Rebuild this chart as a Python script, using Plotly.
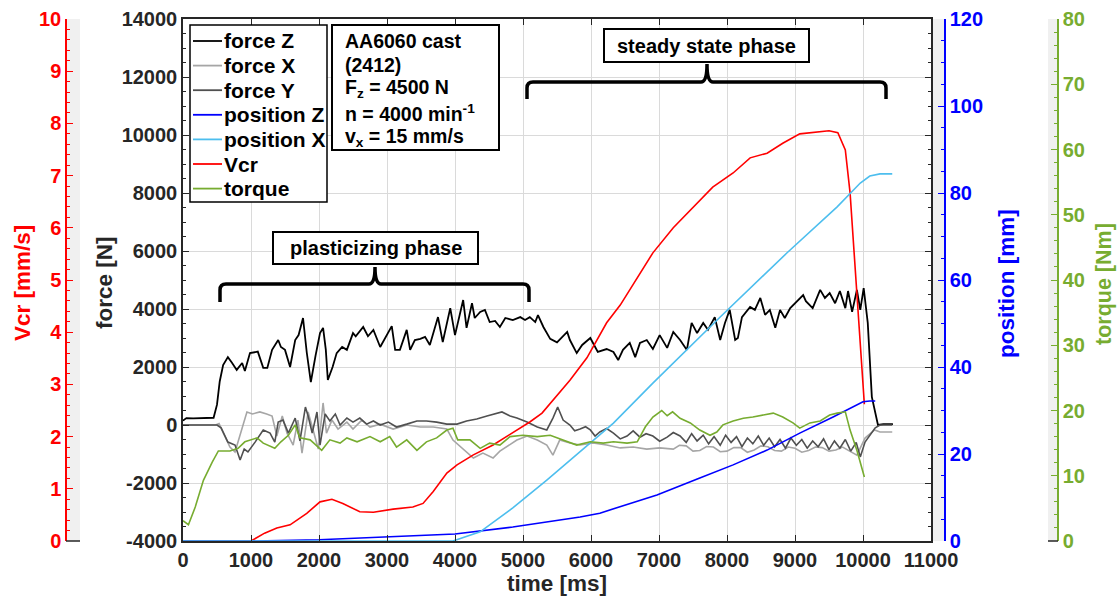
import plotly.graph_objects as go

W, H = 1119, 601

# ---------------- data ----------------
fz_t = [0, 50, 150, 250, 350, 450, 500, 540, 590, 660, 720, 790, 870, 910, 985, 1100, 1180, 1240, 1310, 1400,
        1440, 1500, 1575, 1650, 1700, 1765, 1820, 1880, 1950, 2015, 2060, 2100, 2130, 2200, 2260, 2340, 2410,
        2500, 2540, 2650, 2720, 2800, 2900, 3000, 3070, 3120, 3190, 3290, 3340, 3410, 3490, 3560, 3630, 3750,
        3820, 3930, 4000, 4120, 4170, 4250, 4290, 4370, 4440, 4510, 4590, 4660, 4740, 4850, 4960, 5030, 5100,
        5180, 5220, 5300, 5400, 5500, 5650, 5690, 5790, 5870, 5990, 6100, 6230, 6330, 6400, 6470, 6570, 6650,
        6720, 6820, 6910, 7010, 7120, 7210, 7310, 7410, 7480, 7560, 7650, 7720, 7820, 7900, 7970, 8040, 8120,
        8160, 8220, 8340, 8410, 8490, 8560, 8630, 8710, 8780, 8850, 8930, 9030, 9120, 9160, 9260, 9370, 9440,
        9510, 9590, 9660, 9740, 9780, 9840, 9910, 9960, 10010, 10070, 10130, 10220, 10300, 10440]
fz_v = [150, 240, 230, 230, 240, 250, 700, 1500, 2070, 2340, 2150, 1900, 2140, 1860, 2480, 2530, 1970, 1970, 2590, 2930,
        2690, 2590, 2000, 2930, 3100, 3690, 2500, 1480, 2400, 3170, 3350, 2600, 1550, 2000, 2480, 2690, 2590,
        3170, 3060, 3380, 3060, 3280, 2690, 3100, 3410, 2590, 2590, 3280, 2590, 2930, 2970, 3040, 2760, 3720,
        2860, 4030, 3100, 4310, 3350, 4200, 3690, 3900, 3970, 3550, 3590, 3380, 3690, 3620, 3720, 3620, 3720,
        3550, 3790, 3380, 2970, 2850, 3210, 2930, 2480, 2760, 3000, 2520, 2620, 2520, 2240, 2590, 2830, 2340,
        2830, 2930, 2620, 3100, 2660, 3210, 2930, 2590, 3520, 3170, 3520, 3280, 3720, 2930, 3520, 3970, 2930,
        3000, 3720, 4070, 3970, 4380, 3800, 3970, 3350, 3970, 3690, 4030, 4270, 4480, 4270, 4030, 4660, 4380,
        4550, 4200, 4620, 4030, 4620, 3900, 4660, 3970, 4720, 3520, 970, 0, 30, 30]

fx_t = [0, 480, 530, 600, 690, 765, 870, 940, 1020, 1130, 1230, 1310, 1380, 1460, 1530, 1620, 1690, 1750, 1840,
        1910, 1990, 2060, 2110, 2190, 2280, 2410, 2500, 2630, 2750, 2900, 3090, 3290, 3490, 3680, 3880, 3970,
        4120, 4270, 4410, 4560, 4660, 4810, 4910, 5060, 5210, 5350, 5440, 5540, 5690, 5840, 6030, 6230, 6430,
        6620, 6820, 7010, 7210, 7300, 7400, 7500, 7600, 7700, 7800, 7900, 8000, 8100, 8200, 8300, 8400, 8500,
        8600, 8700, 8800, 8900, 9000, 9100, 9200, 9300, 9400, 9500, 9600, 9700, 9800, 9910, 10030, 10170,
        10250, 10430]
fx_v = [0, 0, 50, -300, -760, -930, -140, 450, 380, 450, 380, 310, -380, 310, -280, -690, 170, -970, 450,
        -140, -830, 760, -280, 170, -140, 100, -140, 170, -70, 30, -140, 0, -70, -70, -140, -520,
        -830, -1140, -970, -1140, -900, -660, -520, -380, -520, -690, -1040, -520, -620, -690, -620, -690, -790,
        -760, -830, -790, -830, -700, -720, -900, -880, -740, -760, -920, -900, -780, -780, -940, -860, -720,
        -750, -880, -900, -760, -800, -940, -880, -760, -780, -900, -860, -760, -900, -1040, -450, -170,
        -240, -240]

fy_t = [0, 500, 560, 660, 765, 840, 900, 955, 1060, 1180, 1280, 1350, 1400, 1470, 1550, 1650, 1720, 1800, 1840,
        1900, 1970, 2015, 2090, 2160, 2240, 2310, 2410, 2500, 2600, 2700, 2800, 2900, 3020, 3140, 3290, 3440,
        3580, 3730, 3880, 4030, 4170, 4320, 4470, 4590, 4690, 4810, 4910, 5060, 5210, 5350, 5440, 5510, 5590,
        5690, 5760, 5840, 5920, 5990, 6060, 6130, 6230, 6330, 6430, 6530, 6620, 6720, 6810, 6910, 7010, 7120,
        7210, 7310, 7400, 7480, 7560, 7650, 7730, 7810, 7900, 7980, 8060, 8140, 8220, 8300, 8380, 8460, 8540,
        8620, 8700, 8780, 8860, 8940, 9020, 9100, 9180, 9260, 9340, 9420, 9500, 9580, 9660, 9740, 9820, 9900,
        9960, 10030, 10180, 10250, 10430]
fy_v = [0, 0, -100, -590, -690, -1210, -830, -930, -590, -170, -280, -590, 100, 170, -280, 240, -550, 620, 310,
        -280, 450, -690, 380, 140, 380, 0, 240, 100, 240, 30, 140, 0, 100, -70, 30, 140,
        140, 100, 30, 30, 140, 210, 310, 380, 450, 310, 240, 100, -70, -170, 240, 620, 170,
        0, -200, -140, -60, -170, -380, -240, -120, -280, -480, -380, -200, -420, -300, -380, -560, -420,
        -260, -380, -600, -300, -550, -350, -650, -400, -700, -350, -600, -400, -750, -450, -650, -380, -700,
        -450, -750, -500, -800, -450, -700, -500, -800, -550, -750, -480, -850, -550, -800, -500, -900, -600,
        -1100, -590, -100, 0, 0]

pz_t = [0, 1000, 2000, 3000, 4000, 4850, 5840, 6130, 6970, 7600, 8090, 8590, 9070, 9560, 10000, 10100, 10180]
pz_v = [0, 0, 0.3, 0.9, 1.6, 3.2, 5.5, 6.4, 10.6, 14.5, 17.5, 20.9, 24.8, 28.5, 32.0, 32.2, 32.2]

px_t = [0, 3970, 4370, 4850, 5350, 5840, 6330, 6910, 7900, 8880, 9620, 9960, 10100, 10250, 10430]
px_v = [0, 0, 2.1, 7.6, 14.0, 20.5, 27.1, 36.3, 51.5, 66.2, 76.8, 82.3, 83.9, 84.4, 84.4]

vcr_t = [0, 1000, 1200, 1380, 1575, 1820, 2015, 2190, 2350, 2600, 2800, 3090, 3380, 3530, 3680, 3880, 4030,
         4270, 4560, 4850, 5100, 5280, 5440, 5690, 5940, 6230, 6430, 6680, 6910, 7210, 7500, 7790, 8090,
         8340, 8590, 8820, 9070, 9320, 9500, 9630, 9740, 9810, 9880, 9960, 10020]
vcr_v = [0, 0, 0.15, 0.25, 0.31, 0.53, 0.75, 0.80, 0.72, 0.56, 0.55, 0.61, 0.65, 0.72, 0.95, 1.30, 1.46,
         1.65, 1.84, 2.07, 2.28, 2.45, 2.70, 3.08, 3.51, 4.18, 4.52, 5.04, 5.52, 6.00, 6.40, 6.78, 7.05,
         7.34, 7.43, 7.62, 7.80, 7.84, 7.86, 7.82, 7.49, 6.67, 5.38, 3.79, 2.62]

tq_t = [0, 80, 180, 300, 430, 520, 690, 810, 910, 1090, 1180, 1350, 1440, 1550, 1650, 1720, 1870, 2040, 2160,
        2310, 2410, 2560, 2750, 2900, 3040, 3140, 3290, 3440, 3580, 3730, 3880, 3970, 4040, 4220, 4370, 4510,
        4660, 4810, 5000, 5210, 5400, 5590, 5790, 5990, 6180, 6330, 6530, 6680, 6800, 6910, 7040, 7120, 7200,
        7310, 7460, 7600, 7750, 7850, 7940, 8090, 8240, 8380, 8530, 8680, 8820, 8970, 9070, 9220, 9370, 9510,
        9620, 9740, 9810, 9910, 10020]
tq_v = [3.1, 2.5, 5.2, 9.3, 12.1, 13.8, 13.8, 14.2, 15.2, 15.8, 15.0, 14.2, 15.2, 16.2, 17.8, 15.8, 15.5, 13.9, 15.5,
        15.0, 15.8, 15.2, 16.0, 15.2, 16.0, 14.4, 15.5, 13.9, 15.2, 15.8, 17.0, 17.3, 15.5, 15.5, 14.2, 15.0,
        14.7, 16.0, 16.2, 16.0, 16.2, 15.5, 14.7, 15.2, 15.0, 15.2, 15.0, 15.2, 17.5, 19.0, 20.0, 19.2, 19.8,
        18.8, 18.1, 17.0, 16.2, 16.7, 17.8, 18.4, 18.8, 19.0, 19.3, 19.6, 19.0, 18.1, 17.3, 18.1, 18.4, 19.3,
        19.6, 19.8, 17.0, 13.9, 9.8]

x_ticks = list(range(0, 11001, 1000))
force_ticks = list(range(-4000, 14001, 2000))

series_names = ["force Z", "force X", "force Y", "position Z", "position X", "Vcr", "torque"]
series_colors = ["black", "#a6a6a6", "#505050", "#0000ff", "#4dbeee", "#ff0000", "#77ac30"]

# ---------------- styling helpers ----------------
FONT = "Liberation Sans, Arial, sans-serif"
DARK = "#262626"
def PX(px): return px / W
def PY(py): return 1 - py / H

fig = go.Figure()
data = [(fz_t, fz_v, "y"), (fx_t, fx_v, "y"), (fy_t, fy_v, "y"), (pz_t, pz_v, "y3"),
        (px_t, px_v, "y3"), (vcr_t, vcr_v, "y2"), (tq_t, tq_v, "y4")]
for (t, v, ax), name, col in zip(data, series_names, series_colors):
    fig.add_trace(go.Scatter(x=t, y=v, name=name, mode="lines", yaxis=ax, showlegend=False,
                             line=dict(color=col, width=1.8 if name == "force Z" else 1.6)))

tickfont = dict(family=FONT, size=20, color=DARK, weight="bold")
ydom = [PY(541), PY(19)]

def free_axis(color, rng, dtick, minor, pos, side):
    return dict(range=rng, dtick=dtick, overlaying="y", anchor="free", position=pos, side=side,
                ticks="inside", ticklen=6, tickwidth=1, tickcolor=color, showline=True, linecolor=color,
                linewidth=1.5, showgrid=False, zeroline=False, automargin=False,
                tickfont=dict(family=FONT, size=20, color=color, weight="bold"),
                minor=dict(dtick=minor, ticks="inside", ticklen=3.5, tickcolor=color, showgrid=False))

fig.update_layout(
    template="none",
    width=W, height=H, margin=dict(l=0, r=0, t=0, b=0, pad=0),
    paper_bgcolor="white", plot_bgcolor="white",
    font=dict(family=FONT, size=20, color=DARK, weight="bold"),
    showlegend=False,
    xaxis=dict(domain=[PX(183), PX(931)], range=[0, 11000], tickvals=x_ticks,
               ticktext=[str(v) for v in x_ticks], ticks="inside", ticklen=6,
               tickcolor=DARK, showline=True, linecolor=DARK, linewidth=1.5, mirror="ticks",
               showgrid=True, gridcolor="#dadada", gridwidth=1, zeroline=False, tickfont=tickfont,
               automargin=False),
    yaxis=dict(domain=ydom, range=[-4000, 14000], tickvals=force_ticks, ticktext=[str(v) for v in force_ticks],
               ticks="inside", ticklen=6, tickcolor=DARK,
               showline=True, linecolor=DARK, linewidth=1.5, mirror="ticks", showgrid=True,
               gridcolor="#dadada", gridwidth=1, zeroline=False, tickfont=tickfont, automargin=False,
               minor=dict(dtick=500, ticks="inside", ticklen=3.5, tickcolor=DARK, showgrid=False)),
    yaxis2=free_axis("#ff0000", [0, 10], 1, 0.2, PX(66), "left"),
    yaxis3=free_axis("#0000ff", [0, 120], 20, 5, PX(945), "right"),
    yaxis4=free_axis("#77ac30", [0, 80], 10, 2, PX(1058), "right"),
)

shapes = []
# grey background strips of the extra axes
for x0, x1 in [(66, 80), (931, 945), (1048, 1058)]:
    shapes.append(dict(type="rect", xref="paper", yref="paper", x0=PX(x0), x1=PX(x1), y0=PY(541), y1=PY(19),
                       fillcolor="#f0f0f0", line=dict(width=0), layer="below"))
for x0, x1 in [(66, 80), (1048, 1058)]:
    shapes.append(dict(type="line", xref="paper", yref="paper", x0=PX(x0), x1=PX(x1), y0=PY(541), y1=PY(541),
                       line=dict(color=DARK, width=1.5)))

def brace(xl, xr, yh, yend, xt, ytop):
    r = 6
    pts = [f"M {PX(xl)},{PY(yend)}", f"L {PX(xl)},{PY(yh + r)}",
           f"Q {PX(xl)},{PY(yh)} {PX(xl + r)},{PY(yh)}", f"L {PX(xt - r)},{PY(yh)}",
           f"Q {PX(xt)},{PY(yh)} {PX(xt)},{PY(ytop)}", f"Q {PX(xt)},{PY(yh)} {PX(xt + r)},{PY(yh)}",
           f"L {PX(xr - r)},{PY(yh)}", f"Q {PX(xr)},{PY(yh)} {PX(xr)},{PY(yh + r)}",
           f"L {PX(xr)},{PY(yend)}"]
    return dict(type="path", xref="paper", yref="paper", path=" ".join(pts),
                line=dict(color="black", width=3.5))

shapes.append(brace(220, 529, 284, 302, 375, 267))
shapes.append(brace(527, 886, 82, 99, 707, 64))
# boxes: legend, info, phase labels
for x0, x1, y0, y1 in [(190, 327, 25, 202), (332, 499, 25, 150), (273, 478, 232, 264), (604, 809, 29, 62)]:
    shapes.append(dict(type="rect", xref="paper", yref="paper", x0=PX(x0), x1=PX(x1), y0=PY(y1), y1=PY(y0),
                       fillcolor="white", line=dict(color="black", width=2 if x0 != 190 else 1.5)))
# legend sample lines
for i, col in enumerate(series_colors):
    yy = 41 + i * 24.6
    shapes.append(dict(type="line", xref="paper", yref="paper", x0=PX(193), x1=PX(222), y0=PY(yy), y1=PY(yy),
                       line=dict(color=col, width=1.8)))
fig.update_layout(shapes=shapes)

ann = []
def txt(text, x, y, size=20, color=DARK, xanchor="center", angle=0):
    ann.append(dict(text=text, x=PX(x), y=PY(y), xref="paper", yref="paper", showarrow=False,
                    xanchor=xanchor, yanchor="middle", textangle=angle,
                    font=dict(family=FONT, size=size, color=color, weight="bold")))

for i, name in enumerate(series_names):
    txt(name, 222, 41 + i * 24.6, size=21, color="black", xanchor="left")

info = ["AA6060 cast", "(2412)", "F<sub>z</sub> = 4500 N", "n = 4000 min<sup>-1</sup>", "v<sub>x</sub> = 15 mm/s"]
for i, line in enumerate(info):
    txt(line, 343, 41 + i * 24, size=19.5, color="black", xanchor="left")
txt("plasticizing phase", 375.5, 248, size=20, color="black")
txt("steady state phase", 706, 45.5, size=20, color="black")
txt("time [ms]", 557, 583, size=22.5)
txt("force [N]", 104, 283, size=22.5, angle=-90)
txt("Vcr [mm/s]", 22, 283, size=22.5, color="#ff0000", angle=-90)
txt("position [mm]", 1006, 284, size=22.5, color="#0000ff", angle=-90)
txt("torque [Nm]", 1104, 284, size=21.5, color="#77ac30", angle=-90)
fig.update_layout(annotations=ann)

fig.write_html("out.html")
